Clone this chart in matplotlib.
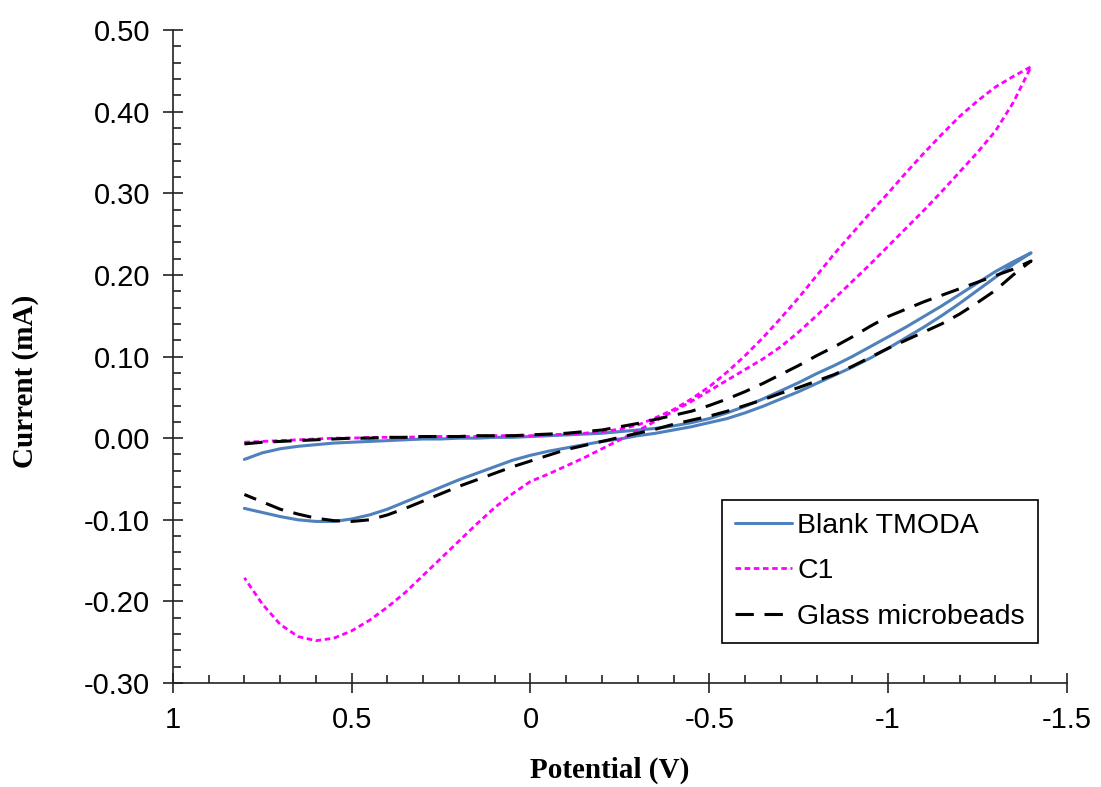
# Cyclic voltammograms: Blank TMODA, C1, Glass microbeads
import numpy as np
import matplotlib
matplotlib.use("Agg")
import matplotlib.pyplot as plt
from matplotlib.ticker import MultipleLocator, FormatStrFormatter, FuncFormatter

# forward scan (0.8 -> -1.4 V, step 0.05) and return scan (-1.4 -> 0.8 V)
v_fwd = [round(0.8 - 0.05 * i, 2) for i in range(45)]
v_ret = v_fwd[::-1]

# Blank TMODA
blank_fwd = [-0.026, -0.018, -0.013, -0.010, -0.008, -0.006, -0.005, -0.004, -0.003,
             -0.002, -0.001, -0.001, 0.000, 0.000, 0.001, 0.001, 0.002, 0.003, 0.004,
             0.005, 0.006, 0.008, 0.010, 0.012, 0.015, 0.019, 0.024, 0.031, 0.039,
             0.048, 0.058, 0.068, 0.079, 0.089, 0.100, 0.112, 0.124, 0.136, 0.149,
             0.162, 0.176, 0.190, 0.204, 0.216, 0.227]
blank_ret = [0.227, 0.213, 0.197, 0.181, 0.165, 0.150, 0.136, 0.123, 0.110, 0.098,
             0.087, 0.077, 0.067, 0.057, 0.048, 0.039, 0.031, 0.024, 0.019, 0.014,
             0.010, 0.006, 0.003, -0.001, -0.004, -0.008, -0.012, -0.016, -0.021,
             -0.027, -0.035, -0.043, -0.051, -0.060, -0.069, -0.078, -0.087, -0.094,
             -0.099, -0.102, -0.102, -0.100, -0.096, -0.091, -0.086]

# C1
c1_fwd = [-0.005, -0.004, -0.003, -0.002, -0.001, 0.000, 0.000, 0.001, 0.001, 0.001,
          0.002, 0.002, 0.002, 0.002, 0.003, 0.003, 0.003, 0.004, 0.005, 0.006,
          0.008, 0.011, 0.016, 0.025, 0.035, 0.048, 0.063, 0.081, 0.101, 0.123,
          0.147, 0.172, 0.199, 0.226, 0.251, 0.276, 0.300, 0.325, 0.349, 0.372,
          0.394, 0.413, 0.430, 0.443, 0.455]
c1_ret = [0.455, 0.411, 0.376, 0.350, 0.326, 0.302, 0.279, 0.257, 0.235, 0.213,
          0.192, 0.171, 0.150, 0.130, 0.112, 0.097, 0.084, 0.071, 0.058, 0.045,
          0.033, 0.021, 0.009, -0.002, -0.013, -0.024, -0.034, -0.044, -0.053,
          -0.068, -0.085, -0.105, -0.126, -0.147, -0.168, -0.189, -0.207, -0.223,
          -0.236, -0.245, -0.248, -0.243, -0.228, -0.203, -0.171]

# Glass microbeads
glass_fwd = [-0.007, -0.005, -0.004, -0.003, -0.002, -0.001, 0.000, 0.000, 0.001,
             0.001, 0.002, 0.002, 0.002, 0.003, 0.003, 0.003, 0.004, 0.005, 0.006,
             0.008, 0.010, 0.014, 0.018, 0.023, 0.028, 0.033, 0.040, 0.048, 0.057,
             0.067, 0.078, 0.089, 0.101, 0.112, 0.124, 0.137, 0.149, 0.158, 0.167,
             0.175, 0.183, 0.191, 0.199, 0.207, 0.217]
glass_ret = [0.217, 0.200, 0.181, 0.166, 0.152, 0.140, 0.130, 0.120, 0.110, 0.099,
             0.088, 0.078, 0.070, 0.062, 0.055, 0.047, 0.040, 0.033, 0.027, 0.022,
             0.017, 0.011, 0.006, 0.001, -0.004, -0.009, -0.014, -0.021, -0.028,
             -0.035, -0.043, -0.051, -0.059, -0.068, -0.077, -0.086, -0.094, -0.100,
             -0.102, -0.101, -0.098, -0.093, -0.087, -0.078, -0.069]

labels = ["Blank TMODA", "C1", "Glass microbeads"]

fig = plt.figure(figsize=(11.01, 7.87), dpi=100)
ax = fig.add_axes([0.157, 0.132, 0.812, 0.830])

ax.plot(v_fwd + v_ret, blank_fwd + blank_ret, color="#4F81BD", lw=2.2,
        solid_capstyle="round", solid_joinstyle="round", label=labels[0])
ax.plot(v_fwd + v_ret, c1_fwd + c1_ret, color="#FF00FF", lw=2.0,
        dashes=(2.0, 1.3), label=labels[1])
ax.plot(v_fwd + v_ret, glass_fwd + glass_ret, color="black", lw=2.2,
        dashes=(6.0, 3.5), label=labels[2])

ax.set_xlim(1, -1.5)
ax.set_ylim(-0.3, 0.5)

for s in ["top", "right"]:
    ax.spines[s].set_visible(False)
for s in ["left", "bottom"]:
    ax.spines[s].set_linewidth(1.2)
    ax.spines[s].set_color("#222222")

ax.xaxis.set_major_locator(MultipleLocator(0.5))
ax.xaxis.set_minor_locator(MultipleLocator(0.1))
ax.yaxis.set_major_locator(MultipleLocator(0.1))
ax.yaxis.set_minor_locator(MultipleLocator(0.02))
ax.yaxis.set_major_formatter(FormatStrFormatter("%.2f"))
ax.xaxis.set_major_formatter(FuncFormatter(lambda v, p: "%g" % v))

ax.tick_params(which="major", direction="inout", length=15, width=1.2,
               color="#222222", labelsize=21, pad=9)
ax.tick_params(which="minor", direction="in", length=6, width=1.2, color="#222222")
for lab in ax.get_xticklabels() + ax.get_yticklabels():
    lab.set_family("Liberation Sans")

ax.set_xlabel("Potential (V)", family="Liberation Serif", fontweight="bold", fontsize=21)
ax.set_ylabel("Current (mA)", family="Liberation Serif", fontweight="bold", fontsize=21)
ax.xaxis.set_label_coords(0.489, -0.112)
ax.yaxis.set_label_coords(-0.150, 0.462)

leg = ax.legend(loc="upper left", bbox_to_anchor=(0.614, 0.280), fancybox=False,
                edgecolor="black", framealpha=1, prop={"family": "Liberation Sans", "size": 20.5},
                handlelength=2.0, handletextpad=0.2, labelspacing=0.68,
                borderpad=0.45, borderaxespad=0)
leg.get_frame().set_linewidth(1.2)

fig.savefig("out.png", dpi=100)
